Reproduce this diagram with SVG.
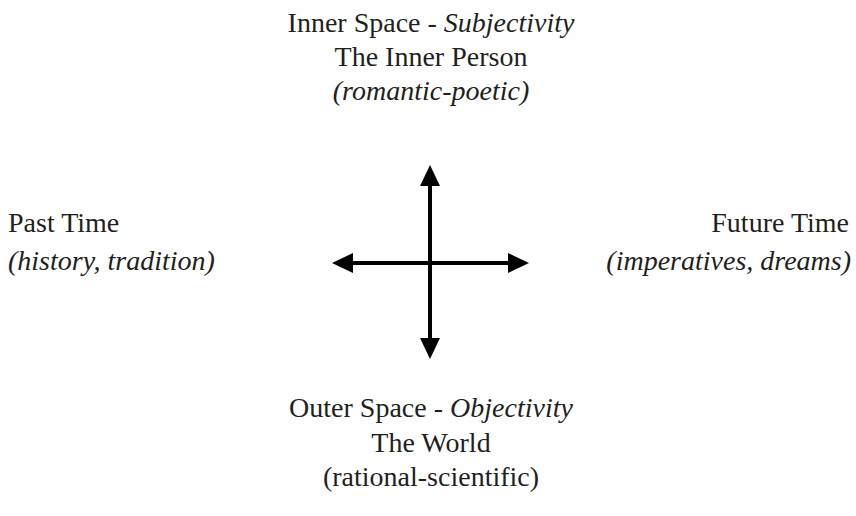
<svg xmlns="http://www.w3.org/2000/svg" width="856" height="516" viewBox="0 0 856 516">
<style>
text{font-family:'Liberation Serif','DejaVu Serif',serif;font-size:28px;fill:#231f20}
.i{font-style:italic}
.c{text-anchor:middle}
.e{text-anchor:end}
.ax{stroke:#000;stroke-width:4;fill:none}
</style>
<defs>
<marker id="ah" viewBox="0 0 21 20" refX="0" refY="10" markerWidth="21" markerHeight="20" markerUnits="userSpaceOnUse" orient="auto">
<path d="M0,0 L21,10 L0,20 Z" fill="#000"/>
</marker>
</defs>
<rect width="856" height="516" fill="#fff"/>
<g id="connectors">
<line class="ax" x1="430" y1="262" x2="430" y2="186" marker-end="url(#ah)"/>
<line class="ax" x1="430" y1="262" x2="430" y2="338" marker-end="url(#ah)"/>
<line class="ax" x1="430" y1="263" x2="353" y2="263" marker-end="url(#ah)"/>
<line class="ax" x1="430" y1="263" x2="508" y2="263" marker-end="url(#ah)"/>
</g>
<g id="top">
<text class="c" x="431" y="32">Inner Space - <tspan class="i">Subjectivity</tspan></text>
<text class="c" x="431" y="66">The Inner Person</text>
<text class="c i" x="431" y="100">(romantic-poetic)</text>
</g>
<g id="left">
<text x="8" y="232">Past Time</text>
<text class="i" x="8" y="270">(history, tradition)</text>
</g>
<g id="right">
<text class="e" x="849" y="232">Future Time</text>
<text class="e i" x="851" y="270">(imperatives, dreams)</text>
</g>
<g id="bottom">
<text class="c" x="431" y="417">Outer Space - <tspan class="i">Objectivity</tspan></text>
<text class="c" x="431" y="452">The World</text>
<text class="c" x="431" y="486">(rational-scientific)</text>
</g>
</svg>
